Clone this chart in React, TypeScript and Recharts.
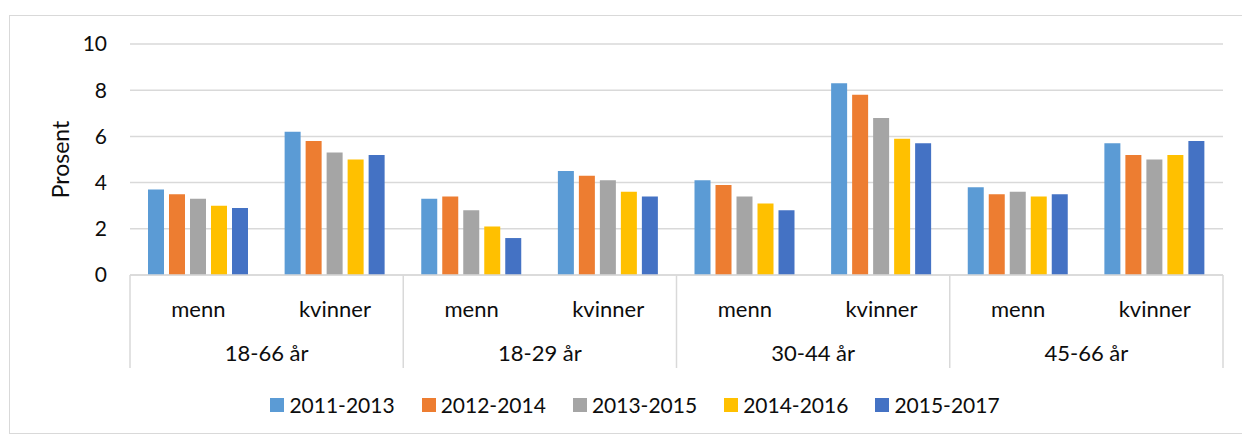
import React from 'react';
import { BarChart, Bar, XAxis, YAxis, CartesianGrid, Legend } from 'recharts';

const sexLabels = ['menn', 'kvinner', 'menn', 'kvinner', 'menn', 'kvinner', 'menn', 'kvinner'];
const ageLabels = ['18-66 år', '18-66 år', '18-29 år', '18-29 år', '30-44 år', '30-44 år', '45-66 år', '45-66 år'];

const periods = ['2011-2013', '2012-2014', '2013-2015', '2014-2016', '2015-2017'];
const colors = ['#5B9BD5', '#ED7D31', '#A5A5A5', '#FFC000', '#4472C4'];

const v2011_2013 = [3.7, 6.2, 3.3, 4.5, 4.1, 8.3, 3.8, 5.7];
const v2012_2014 = [3.5, 5.8, 3.4, 4.3, 3.9, 7.8, 3.5, 5.2];
const v2013_2015 = [3.3, 5.3, 2.8, 4.1, 3.4, 6.8, 3.6, 5.0];
const v2014_2016 = [3.0, 5.0, 2.1, 3.6, 3.1, 5.9, 3.4, 5.2];
const v2015_2017 = [2.9, 5.2, 1.6, 3.4, 2.8, 5.7, 3.5, 5.8];

const yTicks = [0, 2, 4, 6, 8, 10];

const seriesValues = [v2011_2013, v2012_2014, v2013_2015, v2014_2016, v2015_2017];

const FONT = 'Lato, "Open Sans", sans-serif';
const FS = 21;
const TEXT = '#0d0d0d';
const LINE = '#D9D9D9';
const SEX_AXIS_H = 55;
const AGE_AXIS_H = 38;

const data = sexLabels.map((sex, i) => {
  const row: Record<string, string | number> = { key: `${i}`, sex, age: ageLabels[i] };
  periods.forEach((p, s) => {
    row[p] = seriesValues[s][i];
  });
  return row;
});

const SexTick = (props: any) => {
  const { x, y, index } = props;
  return (
    <text x={x} y={y + 33} textAnchor="middle" dominantBaseline="central" fontFamily={FONT} fontSize={22} fill={TEXT}>
      {sexLabels[index]}
    </text>
  );
};

// outer level of the category axis: age group labels and the box separators
const AgeTick = (props: any) => {
  const { x, y, index, width, visibleTicksCount } = props;
  const half = width / (2 * visibleTicksCount);
  const top = y - SEX_AXIS_H;
  const bottom = y + AGE_AXIS_H;
  return (
    <g>
      {index % 2 === 0 && <line x1={x - half} x2={x - half} y1={top} y2={bottom} stroke={LINE} strokeWidth={1.5} />}
      {index === visibleTicksCount - 1 && (
        <line x1={x + half} x2={x + half} y1={top} y2={bottom} stroke={LINE} strokeWidth={1.5} />
      )}
      {index % 2 === 1 && (
        <text x={x - half} y={y + 22} textAnchor="middle" dominantBaseline="central" fontFamily={FONT} fontSize={22} fill={TEXT}>
          {ageLabels[index]}
        </text>
      )}
    </g>
  );
};

const LegendContent = () => (
  <div style={{ display: 'flex', justifyContent: 'center', alignItems: 'center', gap: 27, height: 30, paddingLeft: 28 }}>
    {periods.map((p, i) => (
      <div key={p} style={{ display: 'flex', alignItems: 'center' }}>
        <span style={{ width: 14, height: 14, background: colors[i], display: 'inline-block', marginRight: 5 }} />
        <span style={{ fontFamily: FONT, fontSize: FS, color: TEXT, lineHeight: '30px' }}>{p}</span>
      </div>
    ))}
  </div>
);

export default function App() {
  return (
    <div style={{ position: 'relative', width: 1242, height: 435, background: '#fff', overflow: 'hidden' }}>
      <style>{'body{margin:0}'}</style>
      <div
        style={{
          position: 'absolute',
          left: 9,
          top: 15,
          width: 1240,
          height: 417,
          border: `1.5px solid ${LINE}`,
        }}
      />
      <BarChart
        width={1242}
        height={435}
        data={data}
        margin={{ top: 44, right: 19, left: 50, bottom: 160 - SEX_AXIS_H - AGE_AXIS_H }}
        barCategoryGap={18}
        barGap={5}
      >
        <CartesianGrid vertical={false} stroke={LINE} strokeWidth={1.5} />
        <YAxis
          width={80}
          domain={[0, 10]}
          ticks={yTicks}
          axisLine={false}
          tickLine={false}
          tickSize={0}
          tickMargin={23}
          tick={{ fontFamily: FONT, fontSize: FS, fill: TEXT }}
          label={{
            content: (lp: any) => {
              const vb = lp.viewBox || {};
              const cx = (vb.x ?? 50) + 10;
              const cy = (vb.y ?? 44) + (vb.height ?? 231) / 2;
              return (
                <text
                  transform={`translate(${cx},${cy}) rotate(-90)`}
                  textAnchor="middle"
                  dominantBaseline="central"
                  fontFamily={FONT}
                  fontSize={23}
                  fill={TEXT}
                >
                  Prosent
                </text>
              );
            },
          }}
        />
        <XAxis
          xAxisId="a"
          dataKey="key"
          height={SEX_AXIS_H}
          tickLine={false}
          tickSize={0}
          tickMargin={0}
          axisLine={{ stroke: LINE, strokeWidth: 1.5 }}
          tick={SexTick}
          interval={0}
        />
        <XAxis
          xAxisId="b"
          dataKey="key"
          height={AGE_AXIS_H}
          tickLine={false}
          tickSize={0}
          tickMargin={0}
          axisLine={false}
          tick={AgeTick}
          interval={0}
        />
        <Legend
          layout="horizontal"
          verticalAlign="middle"
          align="center"
          content={LegendContent}
          wrapperStyle={{ position: 'absolute', top: 390, left: 0, width: 1242, height: 30 }}
        />
        {periods.map((p, i) => (
          <Bar key={p} dataKey={p} xAxisId="a" fill={colors[i]} barSize={16} isAnimationActive={false} />
        ))}
      </BarChart>
    </div>
  );
}
